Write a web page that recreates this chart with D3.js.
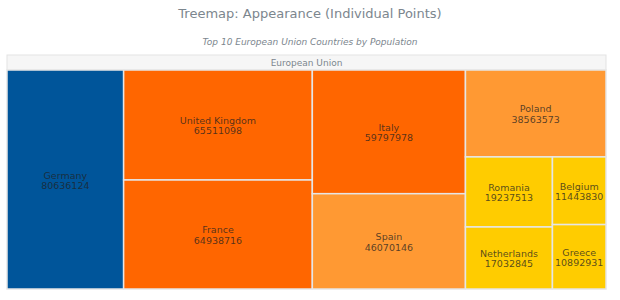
<!DOCTYPE html>
<html>
<head>
<meta charset="utf-8">
<script src="https://cdn.jsdelivr.net/npm/d3@7"></script>
<style>
  body { margin: 0; background: #fff; }
  text { font-family: "DejaVu Sans", sans-serif; }
</style>
</head>
<body>
<script>
const svg_width = 620, svg_height = 300;

// data
var countries = ["Germany", "United Kingdom", "France", "Italy", "Spain",
                 "Poland", "Romania", "Netherlands", "Belgium", "Greece"];
var population = [80636124, 65511098, 64938716, 59797978, 46070146,
                  38563573, 19237513, 17032845, 11443830, 10892931];
var groupName = "European Union";

var fills = {
  "Germany": "#00559a",
  "United Kingdom": "#ff6600", "France": "#ff6600", "Italy": "#ff6600",
  "Spain": "#ff9933", "Poland": "#ff9933",
  "Romania": "#ffcc00", "Netherlands": "#ffcc00", "Belgium": "#ffcc00", "Greece": "#ffcc00"
};

var svg = d3.select("body").append("svg")
            .attr("width", svg_width)
            .attr("height", svg_height);

svg.append("text")
   .attr("x", svg_width / 2)
   .attr("y", 18)
   .attr("text-anchor", "middle")
   .attr("font-size", "13px")
   .attr("fill", "#7c868e")
   .text("Treemap: Appearance (Individual Points)");

svg.append("text")
   .attr("x", svg_width / 2)
   .attr("y", 45)
   .attr("text-anchor", "middle")
   .attr("font-size", "9px")
   .attr("font-style", "italic")
   .attr("fill", "#7c868e")
   .text("Top 10 European Union Countries by Population");

const left = 7, right = 606, headTop = 55, headH = 15, bottom = 289;

// header of the root node
svg.append("rect")
   .attr("x", left)
   .attr("y", headTop)
   .attr("width", right - left)
   .attr("height", headH)
   .attr("fill", "#f6f6f6")
   .attr("stroke", "#e3e3e3")
   .attr("stroke-width", 1);

svg.append("text")
   .attr("x", (left + right) / 2)
   .attr("y", headTop + headH / 2 + 3)
   .attr("text-anchor", "middle")
   .attr("font-size", "9px")
   .attr("fill", "#7c868e")
   .text(groupName);

var root = d3.hierarchy({
      name: groupName,
      children: countries.map(function(c, i){ return {name: c, value: population[i]}; })
    })
    .sum(function(d){ return d.value || 0; })
    .sort(function(a, b){ return b.value - a.value; });

d3.treemap()
  .tile(d3.treemapSquarify.ratio(1))
  .size([right - left, bottom - headTop - headH])(root);

var cellGroup = svg.append("g")
                   .attr("transform", "translate(" + left + "," + (headTop + headH) + ")");

var cells = cellGroup.selectAll("g")
                     .data(root.leaves())
                     .enter()
                     .append("g");

cells.append("rect")
     .attr("x", function(d){ return d.x0; })
     .attr("y", function(d){ return d.y0; })
     .attr("width", function(d){ return d.x1 - d.x0; })
     .attr("height", function(d){ return d.y1 - d.y0; })
     .attr("fill", function(d){ return fills[d.data.name]; })
     .attr("stroke", "#e6e6e6")
     .attr("stroke-width", 1.5);

cells.append("text")
     .attr("x", function(d){ return (d.x0 + d.x1) / 2; })
     .attr("y", function(d){ return (d.y0 + d.y1) / 2 - 1; })
     .attr("text-anchor", "middle")
     .attr("font-size", "9.5px")
     .attr("fill", "#212121")
     .attr("fill-opacity", 0.75)
     .text(function(d){ return d.data.name; });

cells.append("text")
     .attr("x", function(d){ return (d.x0 + d.x1) / 2; })
     .attr("y", function(d){ return (d.y0 + d.y1) / 2 + 9.5; })
     .attr("text-anchor", "middle")
     .attr("font-size", "9.5px")
     .attr("fill", "#212121")
     .attr("fill-opacity", 0.75)
     .text(function(d){ return d.value; });
</script>
</body>
</html>
